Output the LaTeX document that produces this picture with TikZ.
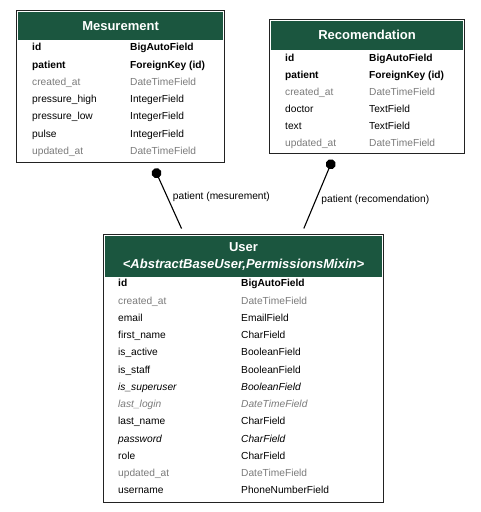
\documentclass[tikz,border=0pt]{standalone}
\usepackage{fontspec}
\setmainfont{Liberation Sans}
\usepackage{tikz}
\usetikzlibrary{
  arrows.meta,
  positioning,
  calc
}
\definecolor{djgreen}{HTML}{1B563F}
\definecolor{inhgray}{HTML}{7B7B7B}
\definecolor{framegray}{HTML}{222222}
\newcommand{\rowfont}{\fontsize{10.2}{12}\selectfont}
\newcommand{\headfont}{\fontsize{13}{17}\selectfont\bfseries}

\begin{document}
\begin{tikzpicture}[x=1pt, y=-1pt,
    every node/.style={font=\rowfont, inner sep=0pt},
    tablebox/.style={draw=framegray, line width=1.1pt, fill=white, anchor=north west},
    headbox/.style={fill=djgreen, text=white, font=\headfont, align=center, anchor=north},
    plainrow/.style={anchor=west, text height=7.5pt, text depth=2pt},
    keyrow/.style={plainrow, font=\rowfont\bfseries},
    inhrow/.style={plainrow, text=inhgray},
    absrow/.style={plainrow, font=\rowfont\itshape},
    absinhrow/.style={plainrow, text=inhgray, font=\rowfont\itshape},
    fkedge/.style={{Circle[length=10pt]}-, line width=1.1pt, shorten <=6pt, shorten >=6pt},
    edgelabel/.style={right, xshift=5pt}]
  \useasboundingbox (0,0) rectangle (480,512);

  % Mesurement
  \node[tablebox, minimum width=208pt, minimum height=152pt] (mes) at (16,10) {};
  \node[headbox, minimum width=205pt, minimum height=28pt] (mes-head) at ([yshift=-1.5pt]mes.north) {Mesurement};
  \foreach \fname/\ftype/\fsty [count=\i] in {
      id/BigAutoField/keyrow,
      patient/ForeignKey (id)/keyrow,
      created\_at/DateTimeField/inhrow,
      pressure\_high/IntegerField/plainrow,
      pressure\_low/IntegerField/plainrow,
      pulse/IntegerField/plainrow,
      updated\_at/DateTimeField/inhrow} {
    \node[\fsty] (mes-f\i) at (32, {48+17.3*(\i-1)}) {\fname};
    \node[\fsty] (mes-t\i) at (130, {48+17.3*(\i-1)}) {\ftype};
  }

  % Recomendation
  \node[tablebox, minimum width=195pt, minimum height=134pt] (rec) at (269,19) {};
  \node[headbox, minimum width=192pt, minimum height=29pt] (rec-head) at ([yshift=-1.5pt]rec.north) {Recomendation};
  \foreach \fname/\ftype/\fsty [count=\i] in {
      id/BigAutoField/keyrow,
      patient/ForeignKey (id)/keyrow,
      created\_at/DateTimeField/inhrow,
      doctor/TextField/plainrow,
      text/TextField/plainrow,
      updated\_at/DateTimeField/inhrow} {
    \node[\fsty] (rec-f\i) at (285, {59+17*(\i-1)}) {\fname};
    \node[\fsty] (rec-t\i) at (369, {59+17*(\i-1)}) {\ftype};
  }

  % User
  \node[tablebox, minimum width=280pt, minimum height=268pt] (user) at (103,234) {};
  \node[headbox, minimum width=277pt, minimum height=41pt] (user-head) at ([yshift=-1.5pt]user.north)
    {User\\\itshape <AbstractBaseUser,PermissionsMixin>};
  \foreach \fname/\ftype/\fsty [count=\i] in {
      id/BigAutoField/keyrow,
      created\_at/DateTimeField/inhrow,
      email/EmailField/plainrow,
      first\_name/CharField/plainrow,
      is\_active/BooleanField/plainrow,
      is\_staff/BooleanField/plainrow,
      is\_superuser/BooleanField/absrow,
      last\_login/DateTimeField/absinhrow,
      last\_name/CharField/plainrow,
      password/CharField/absrow,
      role/CharField/plainrow,
      updated\_at/DateTimeField/inhrow,
      username/PhoneNumberField/plainrow} {
    \node[\fsty] (user-f\i) at (118, {284+17.25*(\i-1)}) {\fname};
    \node[\fsty] (user-t\i) at (241, {284+17.25*(\i-1)}) {\ftype};
  }

  % Relations
  \draw[fkedge] ([xshift=136pt]mes.south west) -- node[edgelabel, pos=0.48] {patient (mesurement)} ([xshift=81pt]user.north west);
  \draw[fkedge] ([xshift=66pt]rec.south west) -- node[edgelabel, pos=0.57] {patient (recomendation)} ([xshift=198.5pt]user.north west);
\end{tikzpicture}
\end{document}
